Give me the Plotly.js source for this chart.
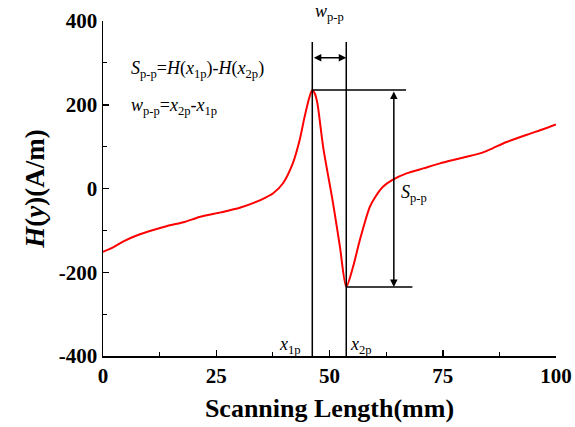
<!DOCTYPE html>
<html>
<head>
<meta charset="utf-8">
<script src="https://cdn.plot.ly/plotly-3.0.1.min.js"></script>
<style>html,body{margin:0;padding:0;background:#fff;}#chart{width:575px;height:427px;}</style>
</head>
<body>
<div id="chart"></div>
<script>
// Scanning length (mm)
const scanX = [0, 2, 4.4, 8, 14, 18, 21.3, 26, 30.2, 33.8, 36, 37.5, 39.7, 41.9, 43.4, 44.5, 45.6, 46.2, 46.7, 47.3, 48.6, 50.8, 52.3, 53.7, 55.2, 56.7, 58.9, 60, 61.8, 64, 67, 70.7, 74.4, 77.3, 80, 83.6, 86, 89.1, 94.3, 97, 100];
// H(y) (A/m)
const fieldH = [-151, -142, -127, -110, -90, -80, -68, -57, -46, -32, -21, -12, 12, 60, 115, 171, 219, 235, 228, 205, 99, -36, -139, -235, -187, -123, -44, -22, 4, 21, 36, 48, 60, 68, 75, 85, 96, 111, 131, 141, 153];
// Feature markers
const x1p = 46.2, x2p = 53.7;
const hMax = 235, hMin = -235;
const xTicks = [0, 25, 50, 75, 100];
const yTicks = [-400, -200, 0, 200, 400];

const serif = "'Liberation Serif', 'Times New Roman', serif";
const black = '#000';
const lw = 1.5;

const trace = {
  x: scanX, y: fieldH, type: 'scatter', mode: 'lines',
  line: {color: '#ff0000', width: 2, shape: 'spline', smoothing: 0.7}, hoverinfo: 'skip', showlegend: false
};

const vTop = 350, wArrowY = 312;
const shapes = [
  {type: 'line', xref: 'x', yref: 'y', x0: x1p, x1: x1p, y0: -400, y1: vTop, line: {color: black, width: lw}},
  {type: 'line', xref: 'x', yref: 'y', x0: x2p, x1: x2p, y0: -400, y1: vTop, line: {color: black, width: lw}},
  {type: 'line', xref: 'x', yref: 'y', x0: x1p, x1: 66.9, y0: hMax, y1: hMax, line: {color: black, width: lw}},
  {type: 'line', xref: 'x', yref: 'y', x0: x2p, x1: 68.3, y0: hMin, y1: hMin, line: {color: black, width: lw}}
];

const tf = {family: serif, size: 18, color: black};
const annotations = [
  // horizontal double arrow (w_p-p)
  {x: x2p, y: wArrowY, ax: x1p, ay: wArrowY, xref: 'x', yref: 'y', axref: 'x', ayref: 'y',
   text: '', showarrow: true, arrowhead: 2, startarrowhead: 2, arrowside: 'end+start',
   arrowsize: 1, startarrowsize: 1, arrowwidth: lw, arrowcolor: black, standoff: 0, startstandoff: 0},
  // vertical double arrow (S_p-p)
  {x: 64.2, y: hMin, ax: 64.2, ay: hMax, xref: 'x', yref: 'y', axref: 'x', ayref: 'y',
   text: '', showarrow: true, arrowhead: 2, startarrowhead: 2, arrowside: 'end+start',
   arrowsize: 1, startarrowsize: 1, arrowwidth: lw, arrowcolor: black, standoff: 0, startstandoff: 0},
  {x: 50, y: 1.025, xref: 'x', yref: 'paper', showarrow: false, xanchor: 'center', yanchor: 'middle',
   text: '<i>w</i><sub>p-p</sub>', font: tf},
  {x: 5.8, y: 283, xref: 'x', yref: 'y', showarrow: false, xanchor: 'left', yanchor: 'middle',
   text: '<i>S</i><sub>p-p</sub>=<i>H</i>(<i>x</i><sub>1p</sub>)-<i>H</i>(<i>x</i><sub>2p</sub>)', font: tf},
  {x: 5.8, y: 195, xref: 'x', yref: 'y', showarrow: false, xanchor: 'left', yanchor: 'middle',
   text: '<i>w</i><sub>p-p</sub>=<i>x</i><sub>2p</sub>-<i>x</i><sub>1p</sub>', font: tf},
  {x: 65.3, y: -12, xref: 'x', yref: 'y', showarrow: false, xanchor: 'left', yanchor: 'middle',
   text: '<i>S</i><sub>p-p</sub>', font: tf},
  {x: 41.3, y: -375, xref: 'x', yref: 'y', showarrow: false, xanchor: 'center', yanchor: 'middle',
   text: '<i>x</i><sub>1p</sub>', font: tf},
  {x: 56.9, y: -375, xref: 'x', yref: 'y', showarrow: false, xanchor: 'center', yanchor: 'middle',
   text: '<i>x</i><sub>2p</sub>', font: tf}
];

const layout = {
  width: 575, height: 427,
  margin: {l: 103, r: 19, t: 21, b: 71, pad: 0},
  paper_bgcolor: '#fff', plot_bgcolor: '#fff',
  font: {family: serif, color: black},
  xaxis: {
    range: [0, 100], tickvals: xTicks, ticktext: xTicks.map(String),
    showgrid: false, zeroline: false, showline: true, linecolor: black, linewidth: lw,
    ticks: 'inside', ticklen: 6, tickwidth: lw, tickcolor: black,
    minor: {ticks: 'inside', ticklen: 4, tickwidth: 1.2, tickcolor: black, dtick: 12.5, tick0: 0, showgrid: false},
    tickfont: {family: serif, size: 21, color: black, weight: 'bold'},
    title: {text: '<b>Scanning Length(mm)</b>', font: {family: serif, size: 26, color: black}, standoff: 12}
  },
  yaxis: {
    range: [-400, 400], tickvals: yTicks, ticktext: yTicks.map(String),
    showgrid: false, zeroline: false, showline: true, linecolor: black, linewidth: lw,
    ticks: 'inside', ticklen: 6, tickwidth: lw, tickcolor: black,
    minor: {ticks: 'inside', ticklen: 4, tickwidth: 1.2, tickcolor: black, dtick: 100, tick0: 0, showgrid: false},
    tickfont: {family: serif, size: 21, color: black, weight: 'bold'},
    title: {text: '<b><i>H</i>(<i>y</i>)(A/m)</b>', font: {family: serif, size: 27, color: black}, standoff: 6}
  },
  shapes: shapes,
  annotations: annotations
};

Plotly.newPlot('chart', [trace], layout, {displayModeBar: false, staticPlot: true});
</script>
</body>
</html>
